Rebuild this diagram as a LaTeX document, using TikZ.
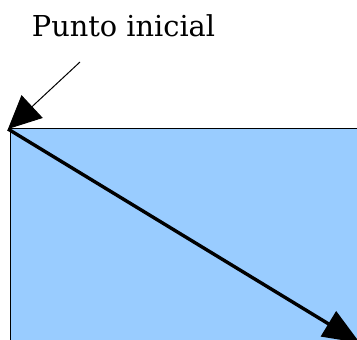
\documentclass[tikz,border=0pt]{standalone}
\usepackage{fontspec}
\setmainfont{DejaVu Serif}
\usetikzlibrary{arrows.meta}
\definecolor{fillblue}{HTML}{99CCFF}
\begin{document}
\begin{tikzpicture}[x=1pt,y=-1pt,
  thinarrow/.style={line width=1pt,-{Triangle[length=33pt,width=31pt]}},
  thickarrow/.style={line width=3.4pt,-{Triangle[length=37pt,width=29pt]}},
  label/.style={font=\fontsize{28.8}{32}\selectfont,anchor=base,inner sep=0pt}]
\useasboundingbox (0,0) rectangle (357,340);
\clip (0,0) rectangle (357,340);
\fill[fillblue] (10.5,128.5) rectangle (370,360);
\draw[line width=1pt] (370,128.5) -- (10.5,128.5) -- (10.5,360);
\node[label] (title) at (123.5,37) {Punto inicial};
\coordinate (from) at (80,62);
\coordinate (start) at (8,129);
\coordinate (endpt) at (360,343);
\draw[thinarrow] (from) -- (start);
\draw[thickarrow] (start) -- (endpt);
\end{tikzpicture}
\end{document}
